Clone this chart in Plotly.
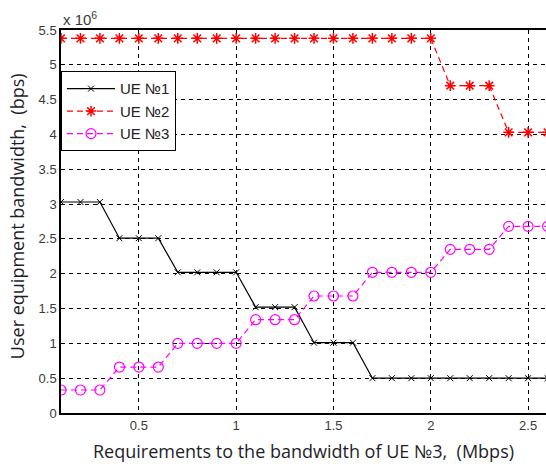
import plotly.graph_objects as go

x_req = [0.1, 0.2, 0.3, 0.4, 0.5, 0.6, 0.7, 0.8, 0.9, 1.0, 1.1, 1.2, 1.3,
         1.4, 1.5, 1.6, 1.7, 1.8, 1.9, 2.0, 2.1, 2.2, 2.3, 2.4, 2.5, 2.6]
ue1 = [3.03, 3.03, 3.03, 2.51, 2.51, 2.51, 2.02, 2.02, 2.02, 2.02, 1.52, 1.52, 1.52,
       1.01, 1.01, 1.01, 0.5, 0.5, 0.5, 0.5, 0.5, 0.5, 0.5, 0.5, 0.5, 0.5]
ue2 = [5.38] * 20 + [4.7, 4.7, 4.7, 4.03, 4.03, 4.03]
ue3 = [0.33, 0.33, 0.33, 0.66, 0.66, 0.66, 1.0, 1.0, 1.0, 1.0, 1.34, 1.34, 1.34,
       1.68, 1.68, 1.68, 2.02, 2.02, 2.02, 2.02, 2.35, 2.35, 2.35, 2.68, 2.68, 2.68]
x_ticks = [0.5, 1, 1.5, 2, 2.5]
y_ticks = [0, 0.5, 1, 1.5, 2, 2.5, 3, 3.5, 4, 4.5, 5, 5.5]

fig = go.Figure()
fig.add_trace(go.Scatter(x=x_req, y=ue1, name="UE №1", mode="lines+markers",
                         line=dict(color="black", width=1.2),
                         marker=dict(symbol="x-thin-open", size=6, color="black",
                                     line=dict(color="black", width=1))))
fig.add_trace(go.Scatter(x=x_req, y=ue2, name="UE №2", mode="lines+markers",
                         line=dict(color="red", width=1.2, dash="6px,4px"),
                         marker=dict(symbol="asterisk-open", size=9, color="red",
                                     line=dict(color="red", width=1.5))))
fig.add_trace(go.Scatter(x=x_req, y=ue3, name="UE №3", mode="lines+markers",
                         line=dict(color="magenta", width=1.2, dash="6px,4px"),
                         marker=dict(symbol="circle-open", size=10, color="magenta",
                                     line=dict(color="magenta", width=1.2))))

tickfont = dict(family="Liberation Sans, Arial", size=13, color="#3a3a3a")
fig.update_xaxes(range=[0.1, 2.592], tickvals=x_ticks, ticktext=["0.5", "1", "1.5", "2", "2.5"],
                 showgrid=True, gridcolor="black", gridwidth=1.3, griddash="4px,4px",
                 showline=True, linecolor="black", linewidth=1.5, mirror=True,
                 ticks="", tickfont=tickfont, zeroline=False)
fig.update_yaxes(range=[0, 5.5], tickvals=y_ticks,
                 ticktext=["0", "0.5", "1", "1.5", "2", "2.5", "3", "3.5", "4", "4.5", "5", "5.5"],
                 showgrid=True, gridcolor="black", gridwidth=1.3, griddash="4px,4px",
                 showline=True, linecolor="black", linewidth=1.5, mirror=False,
                 ticks="", tickfont=tickfont, zeroline=False)

fig.update_layout(
    width=546, height=464,
    margin=dict(l=61, r=0, t=30, b=51),
    plot_bgcolor="white", paper_bgcolor="white",
    showlegend=True,
    legend=dict(x=0.0, y=0.892, xanchor="left", yanchor="top",
                bgcolor="white", bordercolor="black", borderwidth=1,
                font=dict(family="Liberation Sans, Arial", size=15, color="#222"),
                itemwidth=48, tracegroupgap=0),
    annotations=[
        dict(text="x 10<sup>6</sup>", xref="paper", yref="paper", x=0.0, y=1.0,
             xanchor="left", yanchor="bottom", showarrow=False, yshift=0,
             font=dict(family="Liberation Sans, Arial", size=15, color="#3a3a3a")),
        dict(text="Requirements to the bandwidth of UE №3,  (Mbps)", xref="paper", yref="paper",
             x=0.5, y=0, xanchor="center", yanchor="middle", yshift=-38, showarrow=False,
             font=dict(family="Open Sans, Noto Sans", size=18, color="#1e1e2a")),
        dict(text="User equipment bandwidth,  (bps)", xref="paper", yref="paper",
             x=0, y=0.514, xanchor="center", yanchor="middle", xshift=-44, textangle=-90,
             showarrow=False,
             font=dict(family="Open Sans, Noto Sans", size=18, color="#1e1e2a")),
    ],
)

fig.write_html("out.html", config={"displayModeBar": False},
               post_script="document.body.style.margin='0';")
